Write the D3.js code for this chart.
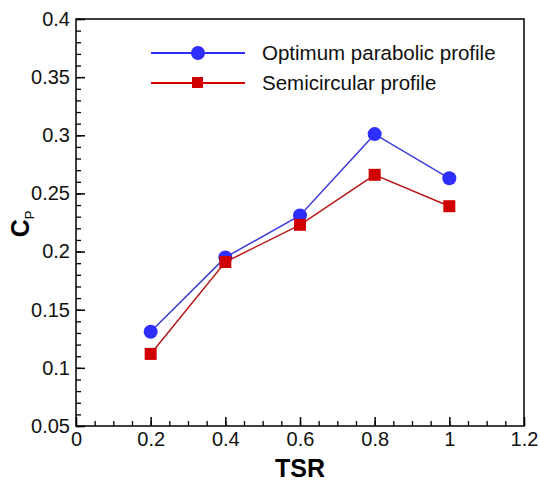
<!DOCTYPE html>
<html>
<head>
<meta charset="utf-8">
<script src="https://cdn.jsdelivr.net/npm/d3@7"></script>
<style>
  body { margin: 0; background: #fff; }
  text { font-family: Arial, "Liberation Sans", sans-serif; }
</style>
</head>
<body>
<div id="chart"></div>
<script>
var tsr = [0.2, 0.4, 0.6, 0.8, 1.0]
var parabolic = [0.131, 0.195, 0.231, 0.301, 0.263]
var semicircular = [0.112, 0.191, 0.223, 0.266, 0.239]
var xTicks = [0, 0.2, 0.4, 0.6, 0.8, 1, 1.2]
var yTicks = [0.05, 0.1, 0.15, 0.2, 0.25, 0.3, 0.35, 0.4]
var seriesNames = ['Optimum parabolic profile', 'Semicircular profile']

var width = 540, height = 482
var margin = {top: 19, right: 16, bottom: 56, left: 76}

var x = d3.scaleLinear().domain([0, 1.2]).range([margin.left, width - margin.right])
var y = d3.scaleLinear().domain([0.05, 0.4]).range([height - margin.bottom, margin.top])

var svg = d3.select('#chart').append('svg')
  .attr('width', width)
  .attr('height', height)

// frame
svg.append('rect')
  .attr('x', x(0)).attr('y', y(0.4))
  .attr('width', x(1.2) - x(0)).attr('height', y(0.05) - y(0.4))
  .attr('fill', 'none').attr('stroke', '#000').attr('stroke-width', 1.5)

// x axis, ticks inward
var xMinor = d3.range(0, 1.2001, 0.05)
svg.append('g')
  .attr('transform', 'translate(0,' + y(0.05) + ')')
  .call(d3.axisBottom(x).tickValues(xMinor).tickSize(-5).tickFormat(''))
  .call(function(g) { g.select('.domain').remove() })
  .selectAll('line').attr('stroke-width', 1.3)
svg.append('g')
  .attr('transform', 'translate(0,' + y(0.05) + ')')
  .call(d3.axisBottom(x).tickValues(xTicks).tickSize(-9).tickPadding(6)
    .tickFormat(function(d) { return d3.format('')(+d.toFixed(1)) }))
  .call(function(g) { g.select('.domain').remove() })
  .call(function(g) {
    g.selectAll('line').attr('stroke-width', 1.5)
    g.selectAll('text').attr('font-size', 20).attr('fill', '#111')
  })

// y axis, ticks inward
var yMinor = d3.range(0.05, 0.4001, 0.01)
svg.append('g')
  .attr('transform', 'translate(' + x(0) + ',0)')
  .call(d3.axisLeft(y).tickValues(yMinor).tickSize(-5).tickFormat(''))
  .call(function(g) { g.select('.domain').remove() })
  .selectAll('line').attr('stroke-width', 1.3)
svg.append('g')
  .attr('transform', 'translate(' + x(0) + ',0)')
  .call(d3.axisLeft(y).tickValues(yTicks).tickSize(-9).tickPadding(6)
    .tickFormat(function(d) { return d3.format('')(+d.toFixed(2)) }))
  .call(function(g) { g.select('.domain').remove() })
  .call(function(g) {
    g.selectAll('line').attr('stroke-width', 1.5)
    g.selectAll('text').attr('font-size', 20).attr('fill', '#111')
  })

// axis titles
svg.append('text')
  .attr('x', (x(0) + x(1.2)) / 2).attr('y', 477)
  .attr('text-anchor', 'middle')
  .attr('font-size', 25).attr('font-weight', 'bold')
  .text('TSR')

var cp = svg.append('text')
  .attr('transform', 'translate(29,' + 224 + ') rotate(-90)')
  .attr('text-anchor', 'middle')
  .attr('font-size', 25).attr('font-weight', 'bold')
cp.append('tspan').text('C')
cp.append('tspan').attr('font-size', 13).attr('font-weight', 'normal').attr('dy', 5).text('P')

// series
var series = [
  {name: seriesNames[0], values: parabolic, line: '#3c3cd8', fill: '#2e2eff', key: '#2e2eff', shape: 'circle'},
  {name: seriesNames[1], values: semicircular, line: '#b81818', fill: '#d00000', key: '#d00000', shape: 'square'}
]

var line = d3.line()
  .x(function(d, i) { return x(tsr[i]) })
  .y(function(d) { return y(d) })

series.forEach(function(s) {
  svg.append('path')
    .datum(s.values)
    .attr('d', line)
    .attr('fill', 'none')
    .attr('stroke', s.line)
    .attr('stroke-width', 1.5)

  var pts = svg.selectAll(null).data(s.values).enter()
  if (s.shape === 'circle') {
    pts.append('circle')
      .attr('cx', function(d, i) { return x(tsr[i]) })
      .attr('cy', function(d) { return y(d) })
      .attr('r', 7)
      .attr('fill', s.fill)
  } else {
    pts.append('rect')
      .attr('x', function(d, i) { return x(tsr[i]) - 6 })
      .attr('y', function(d) { return y(d) - 6 })
      .attr('width', 12).attr('height', 12)
      .attr('fill', s.fill)
  }
})

// legend
var legend = svg.append('g')
series.forEach(function(s, i) {
  var ly = 53 + i * 30
  legend.append('line')
    .attr('x1', 151).attr('x2', 245).attr('y1', ly).attr('y2', ly)
    .attr('stroke', s.key).attr('stroke-width', 2)
  if (s.shape === 'circle') {
    legend.append('circle').attr('cx', 198).attr('cy', ly).attr('r', 7).attr('fill', s.fill)
  } else {
    legend.append('rect').attr('x', 192).attr('y', ly - 6).attr('width', 11).attr('height', 11).attr('fill', s.fill)
  }
  legend.append('text')
    .attr('x', 262).attr('y', ly + 7)
    .attr('font-size', 20.5).attr('fill', '#111')
    .text(s.name)
})
</script>
</body>
</html>
